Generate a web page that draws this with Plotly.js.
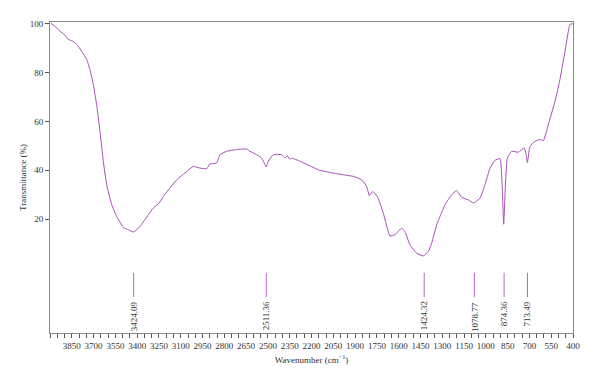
<!DOCTYPE html>
<html>
<head>
<meta charset="utf-8">
<script src="https://cdn.plot.ly/plotly-3.0.1.min.js"></script>
<style>html,body{margin:0;padding:0;background:#fff;}#chart{width:600px;height:384px;}</style>
</head>
<body>
<div id="chart"></div>
<script>
const wavenumber = [3995,3966,3931,3897,3874,3851,3816,3782,3747,3725,3702,3679,3656,3633,3610,3575,3541,3495,3461,3424,3380,3323,3289,3250,3220,3128,3059,3014,2967,2921,2899,2853,2830,2784,2715,2646,2623,2577,2543,2511,2497,2463,2405,2382,2366,2352,2336,2279,2200,2142,2027,1912,1855,1820,1802,1779,1747,1706,1660,1625,1579,1557,1522,1476,1430,1396,1373,1338,1316,1281,1235,1201,1166,1121,1086,1040,1006,971,937,902,891,877,866,852,822,776,735,723,714,696,662,627,604,570,524,490,455,432,421,402];
const transmittance = [100.3,99.1,97,95.4,93.6,93.2,91.6,88.8,85.4,81.3,75.2,66.9,56,43.7,34.1,25.9,21.1,16.6,15.6,14.7,17,21.8,24.5,26.5,29.3,36.1,39.5,41.6,40.9,40.7,42.6,43,46.4,47.8,48.5,48.7,47.8,46.4,45,41.4,43.7,46.4,46.4,45,46,44.6,45,43.7,41.5,40,38.6,37.5,36.1,33.4,29.6,31.3,29.3,22.5,13.1,13.6,16.3,14.9,9.4,6,4.9,6.7,10.1,17.7,21,25.9,30,31.7,28.9,27.9,26.6,28.6,34.1,40.9,44.1,44.8,38.2,17.9,32.7,45,47.8,47.4,49.2,46.4,43.2,49.8,51.9,52.6,52.2,58.7,68.3,77.2,88.8,97,99.8,100.1];
const peakPositions = [3424.09, 2511.36, 1424.32, 1078.77, 874.36, 713.49];
const peakLabels = ["3424.09", "2511.36", "1424.32", "1078.77", "874.36", "713.49"];
const xTickVals = [3850,3700,3550,3400,3250,3100,2950,2800,2650,2500,2350,2200,2050,1900,1750,1600,1450,1300,1150,1000,850,700,550,400];
const yTickVals = [20,40,60,80,100];

const lineColor = '#a54fb4';
const font = {family: '"Liberation Serif", "Times New Roman", serif', size: 9, color: '#333'};

// peak marker segments built from the peak array
const segX = [], segY = [];
peakPositions.forEach(p => { segX.push(p, p, null); segY.push(-2, -12, null); });

const traces = [
  {x: wavenumber, y: transmittance, type: 'scatter', mode: 'lines',
   line: {color: lineColor, width: 1, shape: 'spline', smoothing: 0.4}, hoverinfo: 'skip'},
  {x: segX, y: segY, type: 'scatter', mode: 'lines',
   line: {color: '#b968c4', width: 1}, hoverinfo: 'skip'}
];

const annotations = peakPositions.map((p, i) => ({
  x: p, y: -13, xref: 'x', yref: 'y', text: peakLabels[i], showarrow: false,
  textangle: -90, yanchor: 'top', xanchor: 'center',
  font: {family: font.family, size: 9, color: '#333'}
}));

const layout = {
  width: 600, height: 384,
  margin: {l: 50, r: 27, t: 22, b: 51},
  paper_bgcolor: '#fff', plot_bgcolor: '#fff',
  showlegend: false,
  font: font,
  xaxis: {
    range: [4000, 400], autorange: false,
    tickvals: xTickVals, ticktext: xTickVals.map(String),
    ticks: 'outside', ticklen: 4, tickcolor: '#555', tickwidth: 1,
    minor: {dtick: 50, tick0: 400, ticks: 'outside', ticklen: 4, tickcolor: '#555', showgrid: false},
    showgrid: false, zeroline: false,
    showline: true, linecolor: '#888', linewidth: 1, mirror: true,
    tickfont: {family: font.family, size: 9, color: '#333'},
    title: {text: 'Wavenumber (cm<sup>−1</sup>)', font: {family: font.family, size: 9, color: '#333'}, standoff: 6}
  },
  yaxis: {
    range: [-26.7, 100.8], autorange: false,
    tickvals: yTickVals, ticktext: yTickVals.map(String),
    ticks: 'outside', ticklen: 4, tickcolor: '#555', tickwidth: 1,
    showgrid: false, zeroline: false,
    showline: true, linecolor: '#888', linewidth: 1, mirror: true,
    tickfont: {family: font.family, size: 9, color: '#333'},
    title: {text: 'Transmittance (%)', font: {family: font.family, size: 9, color: '#333'}, standoff: 1}
  },
  annotations: annotations
};

Plotly.newPlot('chart', traces, layout, {displayModeBar: false, staticPlot: true});
</script>
</body>
</html>
